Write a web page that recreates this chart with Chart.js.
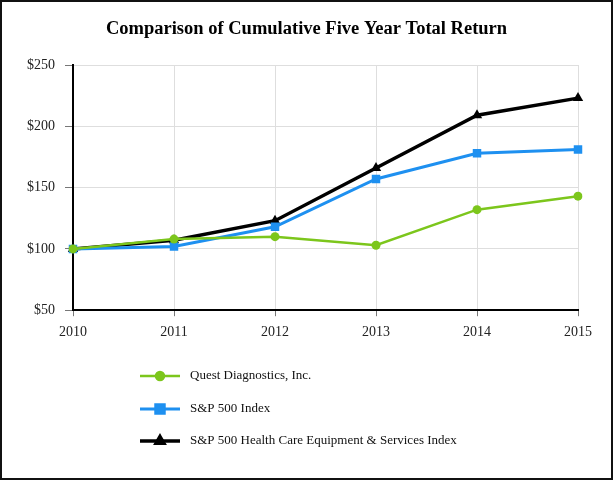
<!DOCTYPE html>
<html lang="en">
  <head>
    <meta charset="UTF-8" />
    <title>Comparison of Cumulative Five Year Total Return</title>
    <style>
      html, body { margin: 0; padding: 0; background: #fff; }
      .wrap { position: relative; width: 613px; height: 480px; }
      .frame {
        position: absolute; left: 0; top: 0; width: 613px; height: 480px;
        box-sizing: border-box; border: 2px solid #111; pointer-events: none;
      }
      canvas { position: absolute; left: 0; top: 0; }
    </style>
    <script src="https://cdn.jsdelivr.net/npm/chart.js"></script>
  </head>
  <body>
    <div class="wrap">
      <canvas id="returnChart" width="613" height="480"></canvas>
      <div class="frame"></div>
    </div>
    <script>
      // values
      const years = ["2010", "2011", "2012", "2013", "2014", "2015"];
      const questValues = [100, 108, 110, 103, 132, 143];
      const sp500Values = [100, 102, 118, 157, 178, 181];
      const healthCareValues = [100, 107, 123, 166, 209, 223];
      const seriesNames = [
        "Quest Diagnostics, Inc.",
        "S&P 500 Index",
        "S&P 500 Health Care Equipment & Services Index",
      ];
      const chartTitle = "Comparison of Cumulative Five Year Total Return";

      const serif = "'Liberation Serif', 'Times New Roman', serif";

      // title centred on the whole page, legend drawn under the plot one entry per row
      const titleAndLegend = {
        id: "titleAndLegend",
        afterDraw(chart) {
          const ctx = chart.ctx;
          ctx.save();
          ctx.fillStyle = "#000";
          ctx.font = "bold 18.5px " + serif;
          ctx.textAlign = "center";
          ctx.textBaseline = "middle";
          ctx.fillText(chartTitle, 306.5, 29);
          ctx.restore();

          const rowsY = [376, 409, 441];
          const legendRadius = { circle: 4, rect: 6, triangle: 4.5 };
          chart.data.datasets.forEach((ds, i) => {
            const y = rowsY[i];
            ctx.save();
            ctx.strokeStyle = ds.borderColor;
            ctx.lineWidth = ds.borderWidth;
            ctx.beginPath();
            ctx.moveTo(140, y);
            ctx.lineTo(180, y);
            ctx.stroke();
            Chart.helpers.drawPoint(ctx, {
              pointStyle: ds.pointStyle,
              radius: legendRadius[ds.pointStyle],
              borderWidth: 1,
            }, 160, y);
            ctx.fillStyle = ds.backgroundColor;
            ctx.fill();
            ctx.fillStyle = "#111";
            ctx.font = "13px " + serif;
            ctx.textBaseline = "middle";
            ctx.fillText(ds.label, 190, y);
            ctx.restore();
          });
        },
      };

      new Chart(document.getElementById("returnChart"), {
        type: "line",
        data: {
          labels: years,
          datasets: [
            {
              label: seriesNames[0],
              data: questValues,
              borderColor: "#7cc61c",
              backgroundColor: "#7cc61c",
              borderWidth: 2.5,
              pointStyle: "circle",
              pointRadius: 4.5,
              pointBorderWidth: 0,
            },
            {
              label: seriesNames[1],
              data: sp500Values,
              borderColor: "#1e90f0",
              backgroundColor: "#1e90f0",
              borderWidth: 3,
              pointStyle: "rect",
              pointRadius: 6,
              pointBorderWidth: 0,
            },
            {
              label: seriesNames[2],
              data: healthCareValues,
              borderColor: "#000",
              backgroundColor: "#000",
              borderWidth: 3.5,
              pointStyle: "triangle",
              pointRadius: 6,
              pointBorderWidth: 0,
            },
          ],
        },
        options: {
          responsive: false,
          animation: false,
          layout: { padding: { top: 65, right: 35, bottom: 131, left: 0 } },
          plugins: {
            legend: { display: false },
            tooltip: { enabled: false },
            title: { display: false },
          },
          scales: {
            x: {
              offset: false,
              grid: { color: "#dedede", tickColor: "#777", tickLength: 6 },
              border: { color: "#000", width: 2 },
              ticks: {
                color: "#222",
                padding: 8,
                maxRotation: 0,
                font: { family: serif, size: 14 },
              },
            },
            y: {
              min: 50,
              max: 250,
              afterFit(scale) { scale.width = 73; },
              grid: { color: "#dedede", tickColor: "#777", tickLength: 8 },
              border: { color: "#000", width: 2 },
              ticks: {
                stepSize: 50,
                color: "#222",
                padding: 10,
                font: { family: serif, size: 14 },
                callback: (v) => "$" + v,
              },
            },
          },
        },
        plugins: [titleAndLegend],
      });
    </script>
  </body>
</html>
